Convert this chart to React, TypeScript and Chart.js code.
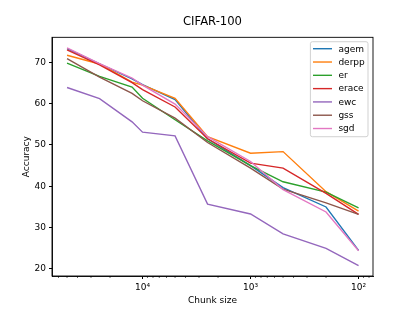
import React, { useEffect, useRef } from 'react';
import { Chart, registerables } from 'chart.js';

Chart.register(...registerables);

const chunkSizes = [50000, 25000, 12500, 10000, 5000, 2500, 1000, 500, 200, 100];
const agem = [73.3, 69.6, 66.0, 64.6, 61.0, 51.5, 45.0, 39.7, 35.0, 24.5];
const derpp = [71.7, 69.6, 65.2, 64.5, 61.3, 52.0, 48.0, 48.4, 38.7, 34.0];
const er = [69.8, 66.6, 64.0, 61.3, 56.1, 51.0, 45.0, 41.1, 38.6, 34.8];
const erace = [73.0, 69.4, 65.1, 63.4, 59.2, 51.5, 45.6, 44.4, 38.3, 33.2];
const ewc = [63.9, 61.2, 55.6, 53.1, 52.2, 35.7, 33.3, 28.5, 25.0, 20.8];
const gss = [70.9, 66.4, 62.5, 60.7, 56.5, 50.6, 44.4, 39.3, 36.0, 33.2];
const sgd = [73.5, 69.7, 66.2, 64.5, 59.9, 52.0, 46.0, 39.2, 33.8, 24.4];

const seriesNames = ['agem', 'derpp', 'er', 'erace', 'ewc', 'gss', 'sgd'];
const seriesValues = [agem, derpp, er, erace, ewc, gss, sgd];
const seriesColors = ['#1f77b4', '#ff7f0e', '#2ca02c', '#d62728', '#9467bd', '#8c564b', '#e377c2'];

const xMajorTicks = [10000, 1000, 100];
const xMajorLabels = ['10\u2074', '10\u00b3', '10\u00b2'];
const yTicks = [20, 30, 40, 50, 60, 70];

const FONT = "'DejaVu Sans', sans-serif";

export default function App() {
  const ref = useRef<HTMLCanvasElement | null>(null);

  useEffect(() => {
    if (!ref.current) return;

    const framePlugin = {
      id: 'frameAndMinor',
      afterDraw(chart: any) {
        const { ctx, chartArea } = chart;
        const xs = chart.scales.x;
        ctx.save();
        // minor ticks
        ctx.strokeStyle = '#000';
        ctx.lineWidth = 0.6;
        for (let d = 1; d <= 4; d++) {
          for (let k = 2; k <= 9; k++) {
            const v = k * Math.pow(10, d);
            if (v < xs.min || v > xs.max) continue;
            const px = xs.getPixelForValue(v);
            ctx.beginPath();
            ctx.moveTo(px, chartArea.bottom);
            ctx.lineTo(px, chartArea.bottom + 2);
            ctx.stroke();
          }
        }
        // frame
        ctx.lineWidth = 0.9;
        ctx.strokeRect(chartArea.left, chartArea.top, chartArea.right - chartArea.left, chartArea.bottom - chartArea.top);

        // legend
        const w = 57.6;
        const h = 95;
        const left = chartArea.right - 5 - w;
        const top = chartArea.top + 4.4;
        ctx.globalAlpha = 0.8;
        ctx.fillStyle = '#fff';
        ctx.beginPath();
        (ctx as any).roundRect(left, top, w, h, 2);
        ctx.fill();
        ctx.globalAlpha = 1;
        ctx.strokeStyle = '#cccccc';
        ctx.lineWidth = 0.9;
        ctx.stroke();
        ctx.font = `9px ${FONT}`;
        ctx.textBaseline = 'middle';
        ctx.textAlign = 'left';
        chart.data.datasets.forEach((ds: any, i: number) => {
          const y = top + 7 + i * 13.3;
          ctx.strokeStyle = ds.borderColor;
          ctx.lineWidth = 1.4;
          ctx.beginPath();
          ctx.moveTo(left + 2.6, y);
          ctx.lineTo(left + 21.6, y);
          ctx.stroke();
          ctx.fillStyle = '#000';
          ctx.fillText(ds.label, left + 28, y + 0.5);
        });
        ctx.restore();
      },
    };

    const chart = new Chart(ref.current, {
      type: 'line',
      data: {
        datasets: seriesNames.map((name, i) => ({
          label: name,
          data: chunkSizes.map((c, j) => ({ x: c, y: seriesValues[i][j] })),
          borderColor: seriesColors[i],
          backgroundColor: seriesColors[i],
          borderWidth: 1.4,
          pointRadius: 0,
          tension: 0,
          fill: false,
          order: seriesNames.length - i,
        })),
      },
      options: {
        animation: false,
        responsive: false,
        events: [],
        layout: { padding: { left: 0, right: 42, top: 0, bottom: 0 } },
        plugins: {
          legend: { display: false },
          tooltip: { enabled: false },
          title: {
            display: true,
            fullSize: false,
            text: 'CIFAR-100',
            color: '#000',
            font: { family: FONT, size: 11.6, weight: 'normal' },
            padding: { top: 15, bottom: 8.4 },
          },
        },
        scales: {
          x: {
            type: 'logarithmic',
            reverse: true,
            min: 73.5,
            max: 68900,
            afterBuildTicks: (s: any) => {
              s.ticks = xMajorTicks.map((v) => ({ value: v }));
            },
            afterFit: (s: any) => {
              s.height = 35;
            },
            grid: { display: true, drawOnChartArea: false, drawTicks: true, tickLength: 3, color: '#000' },
            border: { display: true, color: '#000', width: 0.9 },
            ticks: {
              autoSkip: false,
              maxRotation: 0,
              padding: 3,
              color: '#000',
              font: { family: FONT, size: 9 },
              callback: (v: any) => {
                const idx = xMajorTicks.indexOf(Number(v));
                return idx >= 0 ? xMajorLabels[idx] : '';
              },
            },
            title: {
              display: true,
              text: 'Chunk size',
              color: '#000',
              font: { family: FONT, size: 9 },
              padding: { top: 2, bottom: 5 },
            },
          },
          y: {
            type: 'linear',
            min: 18.3,
            max: 76.05,
            afterBuildTicks: (s: any) => {
              s.ticks = yTicks.map((v) => ({ value: v }));
            },
            afterFit: (s: any) => {
              s.width = 52;
            },
            grid: { display: true, drawOnChartArea: false, drawTicks: true, tickLength: 3, color: '#000' },
            border: { display: true, color: '#000', width: 0.9 },
            ticks: {
              padding: 3,
              color: '#000',
              font: { family: FONT, size: 9 },
              callback: (v: any) => String(v),
            },
            title: {
              display: true,
              text: 'Accuracy',
              color: '#000',
              font: { family: FONT, size: 9 },
              padding: { top: 21, bottom: 0 },
            },
          },
        },
      },
      plugins: [framePlugin],
    } as any);

    return () => chart.destroy();
  }, []);

  return (
    <div style={{ position: 'fixed', left: 0, top: 0, width: 415, height: 311, background: '#fff' }}>
      <canvas ref={ref} width={415} height={311} style={{ display: 'block', width: 415, height: 311 }} />
    </div>
  );
}
